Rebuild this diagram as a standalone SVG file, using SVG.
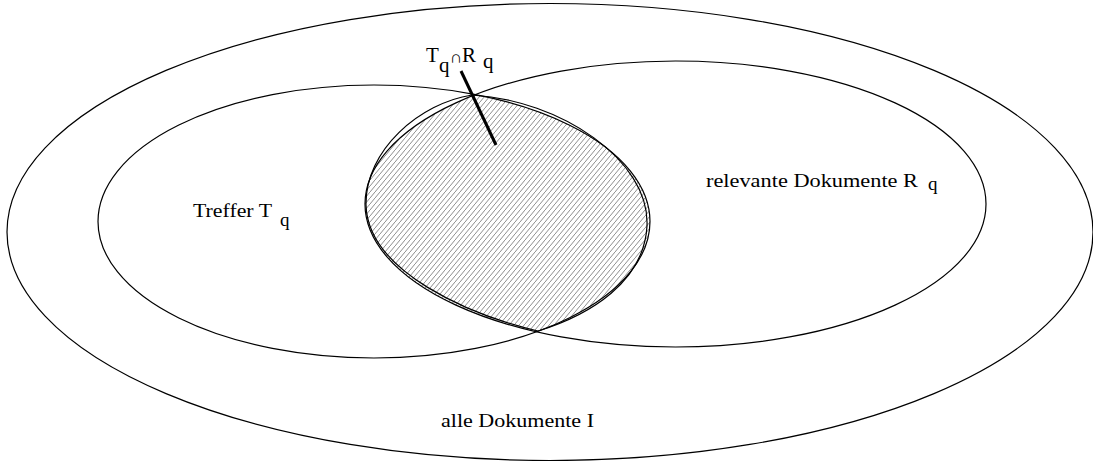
<svg xmlns="http://www.w3.org/2000/svg" width="1093" height="461" viewBox="0 0 1093 461">
<style>
.set{fill:none;stroke:#000;stroke-width:1.2}
.lbl{font-family:"Liberation Serif","Times New Roman",serif;font-size:19px;fill:#000}
.big{font-size:21px}
</style>
<defs>
<pattern id="hatch" patternUnits="userSpaceOnUse" width="5" height="6">
<line x1="-0.5" y1="6.6" x2="5.5" y2="-0.6" stroke="#808080" stroke-width="0.9"/>
</pattern>
<clipPath id="clipT"><ellipse cx="374" cy="221.5" rx="276" ry="136.5"/></clipPath>
</defs>
<rect width="1093" height="461" fill="#fff"/>
<g id="alle">
<ellipse class="set" cx="550" cy="232" rx="543" ry="228.5"/>
<text class="lbl" x="441" y="427" textLength="153" lengthAdjust="spacingAndGlyphs">alle Dokumente I</text>
</g>
<g id="schnitt">
<ellipse cx="675.5" cy="204" rx="310.5" ry="143" fill="url(#hatch)" clip-path="url(#clipT)"/>
<path class="set" d="M472,95 C560,100 650,160 647,226 C644,282 590,315 538,331 C470,315 368,272 366,205 C365,150 420,103 472,95 Z"/>
</g>
<g id="treffer">
<ellipse class="set" cx="374" cy="221.5" rx="276" ry="136.5"/>
<text class="lbl" x="193" y="217" textLength="79" lengthAdjust="spacingAndGlyphs">Treffer T</text>
<text class="lbl" x="280" y="226">q</text>
</g>
<g id="relevant">
<ellipse class="set" cx="675.5" cy="204" rx="310.5" ry="143"/>
<text class="lbl" x="706" y="187" textLength="212" lengthAdjust="spacingAndGlyphs">relevante Dokumente R</text>
<text class="lbl" x="928" y="190">q</text>
</g>
<g id="label-schnitt">
<text class="lbl big" x="426" y="62">T</text>
<text class="lbl big" x="439" y="72">q</text>
<text class="lbl" x="450" y="63" style="font-size:17px">∩</text>
<text class="lbl big" x="462" y="62">R</text>
<text class="lbl big" x="483" y="68">q</text>
</g>
<g id="connectors">
<line x1="461" y1="71" x2="496" y2="145" stroke="#000" stroke-width="3"/>
</g>
</svg>
